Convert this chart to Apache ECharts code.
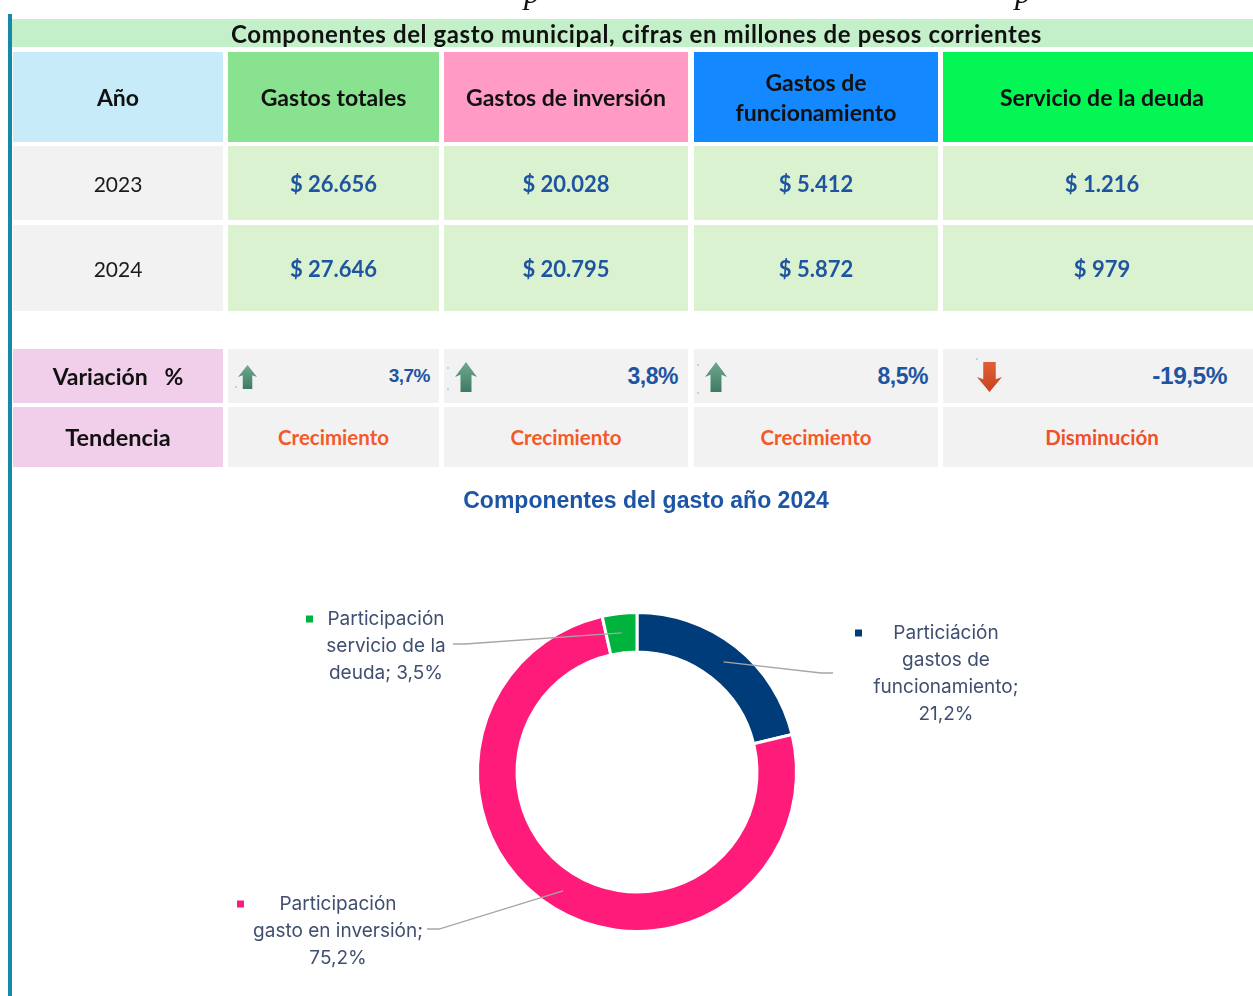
<!DOCTYPE html>
<html>
<head>
<meta charset="utf-8">
<title>Componentes del gasto municipal</title>
<script src="https://cdn.jsdelivr.net/npm/echarts@6/dist/echarts.min.js"></script>
<style>
  html, body { margin: 0; padding: 0; background: #fff; overflow: hidden; }
  #main { position: absolute; left: 0; top: 0; width: 1253px; height: 996px; }
  #tabla { position: absolute; left: 0; top: 0; width: 1253px; height: 470px; z-index: 2;
           font-family: Lato, "Noto Sans", sans-serif; color: #111; }
  .celda { position: absolute; box-sizing: border-box; display: flex; align-items: center;
           justify-content: center; text-align: center; white-space: nowrap; }
  .barra { position: absolute; left: 8px; top: 14px; width: 4px; height: 982px; background: #1589a8; z-index: 3; }
  .corte { position: absolute; top: -24px; font-family: "Liberation Serif", serif; font-style: italic;
           font-size: 32px; line-height: 32px; color: #111; }
  .punto { position: absolute; width: 2px; height: 2px; background: #a8dcf2; }
</style>
</head>
<body>
<div id="main"></div>
<div id="tabla"></div>
<div class="barra"></div>
<div class="corte" style="left:524px">p</div>
<div class="corte" style="left:1015px">p</div>
<script>
// datos de la tabla (millones de pesos corrientes)
var tituloTabla = "Componentes del gasto municipal, cifras en millones de pesos corrientes";
var columnas = ["Año", "Gastos totales", "Gastos de inversión", "Gastos de\nfuncionamiento", "Servicio de la deuda"];
var anios = ["2023", "2024"];
var gastos2023 = [26656, 20028, 5412, 1216];
var gastos2024 = [27646, 20795, 5872, 979];
var variacion = [3.7, 3.8, 8.5, -19.5];
var tendencia = ["Crecimiento", "Crecimiento", "Crecimiento", "Disminución"];

// datos de la dona 2024
var tituloDona = "Componentes del gasto año 2024";
var partNombres = ["Particiáción\ngastos de\nfuncionamiento", "Participación\ngasto en inversión", "Participación\nservicio de la\ndeuda"];
var partSep = ["\n", "\n", " "];
var partValores = [21.2, 75.2, 3.5];
var partColores = ["#003b7a", "#ff1b79", "#00b33c"];

// ---- layout tabla ----
var colX = [[13, 223], [228, 439], [444, 688], [694, 938], [943, 1261]];
var filaY = { titulo: [19, 47], cab: [52, 142], f1: [146, 220], f2: [225, 311], vari: [349, 403], tend: [407, 467] };
var colorCab = ["#c8ebfa", "#88e28f", "#ff9bc5", "#1488ff", "#03f653"];
var azulValor = "#1f55a0";

var tabla = document.getElementById("tabla");

function celda(x0, x1, y, bg, html, estilo) {
  var d = document.createElement("div");
  d.className = "celda";
  d.style.left = x0 + "px";
  d.style.width = (x1 - x0) + "px";
  d.style.top = y[0] + "px";
  d.style.height = (y[1] - y[0]) + "px";
  d.style.background = bg;
  d.style.cssText += ";" + (estilo || "");
  d.innerHTML = html;
  tabla.appendChild(d);
  return d;
}

function fmtMiles(v) {
  return "$ " + String(v).replace(/\B(?=(\d{3})+(?!\d))/g, ".");
}
function fmtPct(v) {
  return v.toFixed(1).replace(".", ",") + "%";
}

//flecha arriba / abajo
function flecha(sube, id) {
  var pts = "10,0 20,14 15,12 15,28 5,28 5,12 0,14";
  var relleno = sube
    ? '<defs><linearGradient id="' + id + '" x1="0" y1="0" x2="0" y2="1"><stop offset="0" stop-color="#6fa98f"/><stop offset="1" stop-color="#3e7a61"/></linearGradient></defs>'
    : '<defs><linearGradient id="' + id + '" x1="0" y1="0" x2="0" y2="1"><stop offset="0" stop-color="#c8431f"/><stop offset="1" stop-color="#e15f37"/></linearGradient></defs>';
  var tr = sube ? "" : ' transform="rotate(180 10 14)"';
  return '<svg width="100%" height="100%" viewBox="0 0 20 28" preserveAspectRatio="none">' + relleno +
    '<polygon points="' + pts + '" fill="url(#' + id + ')"' + tr + '/></svg>';
}

// fila titulo
celda(12, 1261, filaY.titulo, "#c3f0c8", tituloTabla, "font-weight:700;font-size:24px;letter-spacing:0.6px;");

// cabecera
for (var i = 0; i < columnas.length; i++) {
  celda(colX[i][0], colX[i][1], filaY.cab, colorCab[i], columnas[i].replace("\n", "<br>"),
    "font-weight:700;font-size:23px;line-height:30px;");
}

// filas de años
[gastos2023, gastos2024].forEach(function (fila, r) {
  var y = r === 0 ? filaY.f1 : filaY.f2;
  celda(colX[0][0], colX[0][1], y, "#f2f2f2", anios[r], "font-size:21px;color:#1a1a1a;");
  for (var j = 0; j < fila.length; j++) {
    celda(colX[j + 1][0], colX[j + 1][1], y, "#daf2d0", fmtMiles(fila[j]),
      "font-weight:700;font-size:22px;color:" + azulValor + ";");
  }
});

// variacion y tendencia
celda(colX[0][0], colX[0][1], filaY.vari, "#f1cfeb", "Variación&nbsp;&nbsp;&nbsp;%", "font-weight:700;font-size:23px;");
celda(colX[0][0], colX[0][1], filaY.tend, "#f1cfeb", "Tendencia", "font-weight:700;font-size:23.5px;");

var pctTam = [19, 23, 23, 24.5];
var pctDer = [9, 10, 10, 34];
var flechaIzq = [10, 11, 11, 34];
var flechaTam = [[19, 24], [22, 30], [22, 30], [25, 30]];
for (var k = 0; k < variacion.length; k++) {
  var c = celda(colX[k + 1][0], colX[k + 1][1], filaY.vari, "#f2f2f2", "",
    "justify-content:flex-end;padding-right:" + pctDer[k] + "px;");
  c.innerHTML = '<span style="font-family:\'Liberation Sans Narrow\',\'Liberation Sans\',sans-serif;font-weight:700;letter-spacing:-0.5px;font-size:' +
    pctTam[k] + 'px;color:' + azulValor + ';">' + fmtPct(variacion[k]) + '</span>' +
    '<div style="position:absolute;left:' + flechaIzq[k] + 'px;top:' + (28 - flechaTam[k][1] / 2) + 'px;width:' +
    flechaTam[k][0] + 'px;height:' + flechaTam[k][1] + 'px;">' + flecha(variacion[k] >= 0, "fl" + k) + '</div>';
  celda(colX[k + 1][0], colX[k + 1][1], filaY.tend, "#f2f2f2", tendencia[k],
    "font-weight:700;font-size:20.5px;color:" + (variacion[k] >= 0 ? "#f35a2a" : "#f0502a") + ";");
}

// puntos de seleccion de las flechas
[[235, 386], [447, 367], [447, 388], [697, 364], [697, 392], [976, 358]].forEach(function (p) {
  var d = document.createElement("div");
  d.className = "punto";
  d.style.left = p[0] + "px";
  d.style.top = p[1] + "px";
  tabla.appendChild(d);
});

// ---- dona ----
var centro = [637, 772];
var radioGuia = 140;
// centro del bloque de texto y fin de la linea guia, relativos al centro
var etiquetaPos = [[309, -98.5], [-299, 159], [-251, -126]];
var guiaFin = [[196, -99], [-210, 157], [-184, -128]];
var etiquetaAncho = [182, 202, 160];

var chart = echarts.init(document.getElementById("main"));
window.onresize = chart.resize;

var rich = {
  t: { align: "center", fontFamily: "Inter", fontSize: 19, lineHeight: 27, color: "#404f70" },
  r: { align: "right", width: 7, height: 7 }
};
partColores.forEach(function (col, i) {
  rich["m" + i] = { align: "left", width: 7, height: 7, backgroundColor: col };
});

var datosDona = partValores.map(function (v, i) {
  return { name: partNombres[i], value: v, itemStyle: { color: partColores[i] } };
});
var datosGuia = partValores.map(function (v, i) {
  return { name: partNombres[i], value: v, label: { width: etiquetaAncho[i] } };
});

var option = {
  animation: false,
  title: {
    text: tituloDona,
    left: 646,
    top: 490,
    padding: 0,
    textAlign: "center",
    textStyle: { fontFamily: "Liberation Sans", fontWeight: "bold", fontSize: 23, lineHeight: 24, color: "#1d55a5" }
  },
  series: [
    {
      type: "pie",
      silent: true,
      z: 2,
      center: centro,
      radius: [120, 159.5],
      startAngle: 90,
      clockwise: true,
      label: { show: false },
      labelLine: { show: false },
      itemStyle: { borderColor: "#fff", borderWidth: 3 },
      data: datosDona
    },
    {
      type: "pie",
      silent: true,
      z: 5,
      center: centro,
      radius: [0, radioGuia],
      startAngle: 90,
      clockwise: true,
      itemStyle: { color: "rgba(0,0,0,0)" },
      label: {
        show: true,
        position: "outside",
        color: "#404f70",
        formatter: function (p) {
          var lineas = (partNombres[p.dataIndex] + ";" + partSep[p.dataIndex] + fmtPct(p.value)).split("\n");
          return lineas.map(function (l, i) {
            return i === 0 ? "{m" + p.dataIndex + "|}{t|" + l + "}{r|}" : "{t|" + l + "}";
          }).join("\n");
        },
        rich: rich
      },
      labelLine: { show: true, smooth: false, length: 10, length2: 10, lineStyle: { color: "#a6a6a6", width: 1.3 } },
      labelLayout: function (p) {
        var i = p.dataIndex;
        var fin = [centro[0] + guiaFin[i][0], centro[1] + guiaFin[i][1]];
        var ini = p.labelLinePoints ? p.labelLinePoints[0] : fin;
        var medio = [fin[0] + (ini[0] > fin[0] ? 12 : -12), fin[1]];
        return {
          x: centro[0] + etiquetaPos[i][0],
          y: centro[1] + etiquetaPos[i][1],
          align: "center",
          verticalAlign: "middle",
          labelLinePoints: [ini, medio, fin]
        };
      },
      data: datosGuia
    }
  ]
};
chart.setOption(option);
</script>
</body>
</html>
